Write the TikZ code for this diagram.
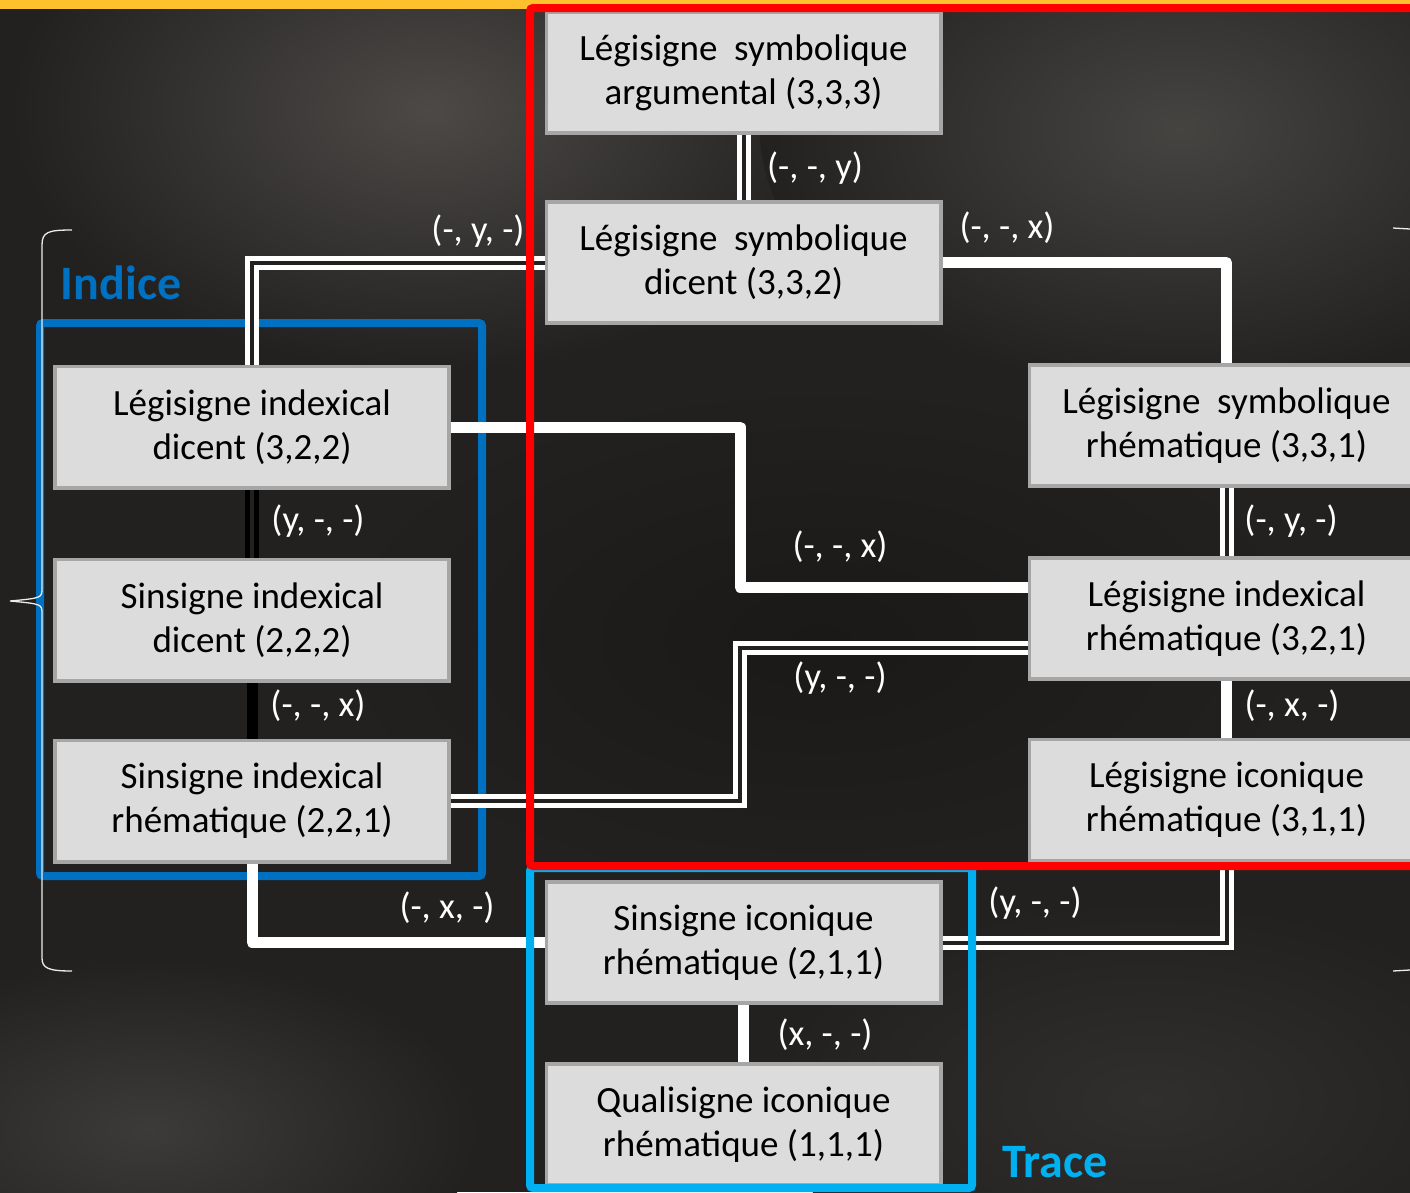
\documentclass[tikz,border=0pt]{standalone}
\usepackage{fontspec}
\setmainfont{Carlito}
\definecolor{bgbase}{HTML}{222120}
\definecolor{boxfill}{HTML}{DCDCDC}
\definecolor{boxline}{HTML}{A6A6A6}
\definecolor{indiceblue}{HTML}{0070C0}
\definecolor{tracecyan}{HTML}{00B0F0}
\definecolor{topbar}{HTML}{FDC12E}
\begin{document}
\begin{tikzpicture}[x=1pt,y=-1pt,
  signbox/.style={draw=boxline,fill=boxfill,line width=2.5pt,minimum width=393pt,
    minimum height=120pt,inner sep=0pt,align=center,text=black,
    font=\fontsize{37}{44}\selectfont},
  lbl/.style={text=white,inner sep=0pt,font=\fontsize{36.5}{40}\selectfont},
  sgl/.style={draw=white,line width=11pt,line join=round},
  dbl/.style={draw=white,line width=5pt,double=bgbase,double distance=4pt},
  sglk/.style={draw=black,line width=11pt},
  dblk/.style={draw=black,line width=5pt,double=bgbase,double distance=4pt},
  frame/.style={line width=8pt,rounded corners=3pt},
  grouptitle/.style={inner sep=0pt,font=\fontsize{48}{52}\selectfont\bfseries},
  brace/.style={draw=white!85!gray,line width=1.3pt}]

\useasboundingbox (0,0) rectangle (1410,1192);
\clip (0,0) rectangle (1410,1192);

% background
\fill[bgbase] (0,0) rectangle (1410,1192);
\shade[inner color={rgb,255:red,76;green,73;blue,70},outer color=bgbase] (430,110) ellipse (420 and 260);
\shade[inner color={rgb,255:red,70;green,68;blue,65},outer color=bgbase] (1180,130) ellipse (420 and 260);
\shade[inner color={rgb,255:red,60;green,59;blue,58},outer color=bgbase] (150,1130) ellipse (330 and 170);
\shade[inner color={rgb,255:red,48;green,47;blue,46},outer color=bgbase] (1150,1100) ellipse (380 and 200);
\shade[inner color={rgb,255:red,26;green,25;blue,24},outer color=bgbase] (820,640) ellipse (500 and 260);
\fill[topbar] (0,0) rectangle (1410,9);

% Indice frame (behind the connectors)
\draw[frame,indiceblue] (40,323) rectangle (482,876);

% sign boxes
\node[signbox] (A) at (743.5,72.5) {Légisigne\ \ symbolique\\argumental (3,3,3)};
\node[signbox] (B) at (743.5,262.5) {Légisigne\ \ symbolique\\dicent (3,3,2)};
\node[signbox] (C) at (252,427) {Légisigne indexical\\dicent (3,2,2)};
\node[signbox] (D) at (252,620) {Sinsigne indexical\\dicent (2,2,2)};
\node[signbox] (E) at (252,801) {Sinsigne indexical\\rhématique (2,2,1)};
\node[signbox] (F) at (1226.5,425.5) {Légisigne\ \ symbolique\\rhématique (3,3,1)};
\node[signbox] (G) at (1226.5,618.5) {Légisigne indexical\\rhématique (3,2,1)};
\node[signbox] (H) at (1226.5,800) {Légisigne iconique\\rhématique (3,1,1)};
\node[signbox] (I) at (743.5,942.5) {Sinsigne iconique\\rhématique (2,1,1)};
\node[signbox] (J) at (743.5,1124.5) {Qualisigne iconique\\rhématique (1,1,1)};

% bend points
\coordinate (cg) at (740,587);
\coordinate (eg) at (740,648);

% connectors
\draw[dbl] (A.south) -- (B.north);
\draw[sgl] (B.east) -| (F.north);
\draw[dbl] (C.north) |- (B.west);
\draw[dblk] (C.south) -- (D.north);
\draw[sglk] (D.south) -- (E.north);
\draw[sgl] (C.east) -| (cg) -- (cg -| G.west);
\draw[dbl] (E.east) -| (eg) -- (eg -| G.west);
\draw[dbl] (F.south) -- (G.north);
\draw[sgl] (G.south) -- (H.north);
\draw[sgl] (E.south) |- (I.west);
\draw[dbl] (I.east) -| (H.south);
\draw[sgl] (I.south) -- (J.north);

% box borders drawn again over the connector ends
\foreach \n in {A,B,C,D,E,F,G,H,I,J}
  \draw[draw=boxline,line width=2.5pt] (\n.north west) rectangle (\n.south east);

% connector labels
\node[lbl] (l1) at (815,168) {(-, -, y)};
\node[lbl] (l2) at (1007,228) {(-, -, x)};
\node[lbl] (l3) at (478,231) {(-, y, -)};
\node[lbl] (l4) at (318,521) {(y, -, -)};
\node[lbl] (l5) at (318,706) {(-, -, x)};
\node[lbl] (l6) at (840,547) {(-, -, x)};
\node[lbl] (l7) at (840,678) {(y, -, -)};
\node[lbl] (l8) at (1291,521) {(-, y, -)};
\node[lbl] (l9) at (1292,706) {(-, x, -)};
\node[lbl] (l10) at (447,908) {(-, x, -)};
\node[lbl] (l11) at (1035,903) {(y, -, -)};
\node[lbl] (l12) at (825,1035) {(x, -, -)};

% grouping frames
\draw[frame,tracecyan] (530,868) rectangle (972,1188);
\draw[frame,red] (530,8) rectangle (1425,866);

% group titles
\node[grouptitle,text=indiceblue] (tIndice) at (121,283) {Indice};
\node[grouptitle,text=tracecyan] (tTrace) at (1055,1162) {Trace};

% left brace
\draw[brace] (72,230) .. controls (48,230) and (42,232) .. (42,245) -- (42,588)
  .. controls (42,598) .. (10,601) .. controls (42,604) .. (42,614) -- (42,958)
  .. controls (42,968) and (48,971) .. (72,971);
% right brace ends
\draw[brace] (1393,228) .. controls (1402,228) .. (1410,229);
\draw[brace] (1393,971) .. controls (1402,971) .. (1410,970);
\end{tikzpicture}
\end{document}
